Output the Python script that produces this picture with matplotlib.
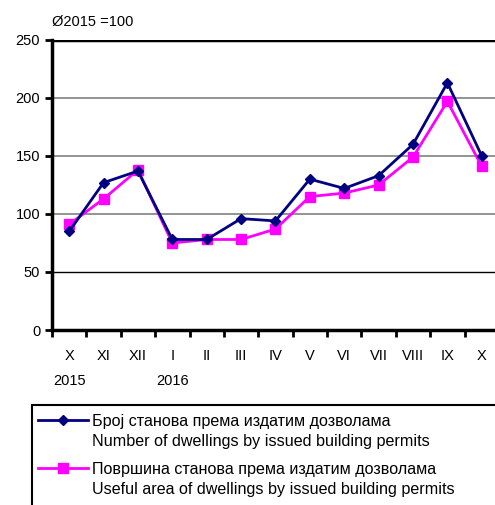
import matplotlib
matplotlib.use('Agg')
import matplotlib.pyplot as plt
from matplotlib.patches import Rectangle
from matplotlib.lines import Line2D

plt.rcParams['font.family'] = ['Liberation Sans', 'DejaVu Sans']

months = ['X', 'XI', 'XII', 'I', 'II', 'III', 'IV', 'V', 'VI', 'VII', 'VIII', 'IX', 'X']
years = {0: '2015', 3: '2016'}
dwellings = [85, 127, 137, 78, 78, 96, 94, 130, 122, 133, 160, 213, 150]
area = [91, 113, 138, 75, 78, 78, 87, 115, 118, 125, 149, 197, 141]

label_1 = ['Број станова према издатим дозволама', 'Number of dwellings by issued building permits']
label_2 = ['Површина станова према издатим дозволама', 'Useful area of dwellings by issued building permits']

fig = plt.figure(figsize=(4.95, 5.05), dpi=100)
ax = fig.add_axes([0.105, 0.3465, 0.903, 0.5745])

x = list(range(len(months)))
l1, = ax.plot(x, dwellings, color='#000080', marker='D', markersize=5.5, lw=2, zorder=4)
l2, = ax.plot(x, area, color='#ff00ff', marker='s', markersize=7.5, lw=2, zorder=3)

ax.set_xlim(-0.5, len(months) - 0.5)
ax.set_ylim(0, 250)
ax.set_yticks([0, 50, 100, 150, 200, 250])
ax.set_xticks([i - 0.5 for i in range(len(months) + 1)], minor=False)
ax.set_xticklabels([])
ax.set_xticks(x, minor=True)
ax.set_xticklabels(months, minor=True)
ax.tick_params(axis='x', which='major', length=5, width=2, direction='out')
ax.tick_params(axis='x', which='minor', length=0, pad=14, labelsize=10.5)
ax.tick_params(axis='y', length=5, width=2, labelsize=10.5)
for k, v in years.items():
    ax.text(k, -38, v, ha='center', va='top', fontsize=10.5)

for v in [50, 100, 150, 200]:
    ax.axhline(v, color='#808080' if v != 50 else 'black', lw=1.2 if v != 50 else 1, zorder=1)
ax.axhline(250, color='black', lw=2.5, zorder=1)

for s in ['top', 'right']:
    ax.spines[s].set_visible(False)
ax.spines['left'].set_linewidth(2.5)
ax.spines['bottom'].set_linewidth(2.5)

fig.text(0.105, 0.957, 'Ø2015 =100', fontsize=10.5, ha='left', va='center')

fig.patches.append(Rectangle((0.065, -0.1), 1.0, 0.298, transform=fig.transFigure,
                             fill=False, edgecolor='black', lw=1.5))

blank = Line2D([], [], color='none')
for i, (h, lab) in enumerate([(l1, label_1), (l2, label_2)]):
    lg = fig.legend([h, blank], lab, loc='upper left',
                    bbox_to_anchor=(0.076, 0.181 - i * 0.095), frameon=False, fontsize=11.6,
                    handlelength=3.1, handletextpad=0.25, labelspacing=0.36,
                    borderaxespad=0, borderpad=0)

fig.savefig('out.png', dpi=100)
